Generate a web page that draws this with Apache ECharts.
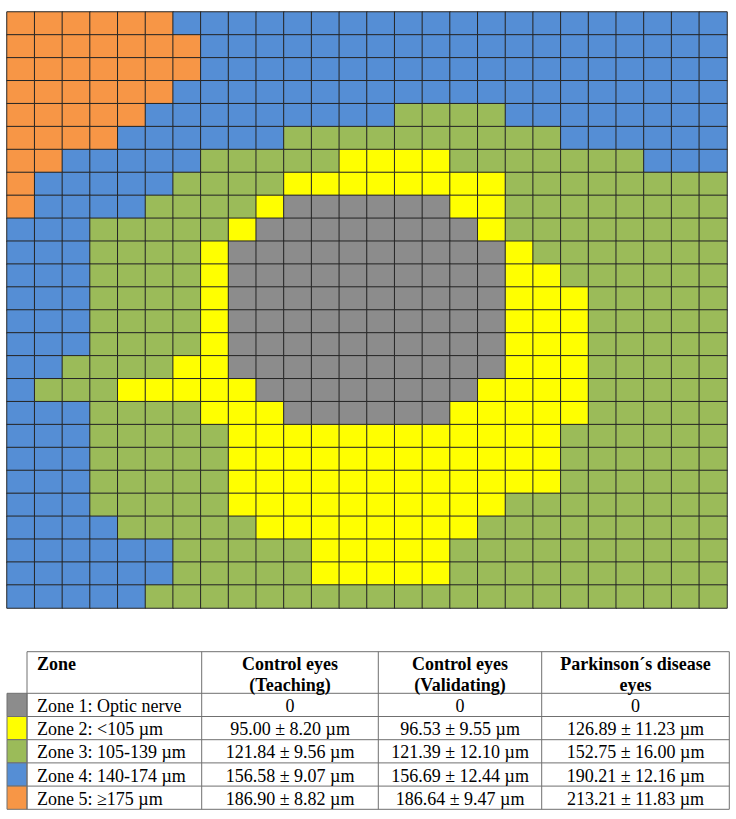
<!DOCTYPE html>
<html>
<head>
<meta charset="utf-8">
<script src="https://cdn.jsdelivr.net/npm/echarts@6/dist/echarts.min.js"></script>
<style>
  html, body { margin: 0; padding: 0; background: #ffffff; }
  #chart { width: 736px; height: 819px; }
</style>
</head>
<body>
<div id="chart"></div>
<script>
// zone of every cell, one string per row (1 = optic nerve ... 5 = >=175 µm)
const zoneRows = [
  '55555544444444444444444444',
  '55555554444444444444444444',
  '55555554444444444444444444',
  '55555544444444444444444444',
  '55555444444444333344444444',
  '55554444443333333333444444',
  '55444443333322223333333444',
  '54444433332222222233333333',
  '54444333321111112233333333',
  '44433333211111111233333333',
  '44433332111111111123333333',
  '44433332111111111122333333',
  '44433332111111111122233333',
  '44433332111111111122233333',
  '44433332111111111122233333',
  '44333322111111111122233333',
  '43332222211111111222233333',
  '44433332221111112222233333',
  '44433333222222222222333333',
  '44433333222222222222333333',
  '44433333222222222222333333',
  '44433333222222222233333333',
  '44443333322222222333333333',
  '44444433333222223333333333',
  '44444433333222223333333333',
  '44444333333333333333333333'
]

const zoneColors = ['#8c8c8c', '#ffff00', '#9bbb59', '#558ed5', '#f79646']
const zoneLabels = ['Zone 1: Optic nerve', 'Zone 2: <105 µm', 'Zone 3: 105-139 µm', 'Zone 4: 140-174 µm', 'Zone 5: ≥175 µm']
const teaching = ['0', '95.00 ± 8.20 µm', '121.84 ± 9.56 µm', '156.58 ± 9.07 µm', '186.90 ± 8.82 µm']
const validating = ['0', '96.53 ± 9.55 µm', '121.39 ± 12.10 µm', '156.69 ± 12.44 µm', '186.64 ± 9.47 µm']
const parkinson = ['0', '126.89 ± 11.23 µm', '152.75 ± 16.00 µm', '190.21 ± 12.16 µm', '213.21 ± 11.83 µm']
const headers = ['Zone', 'Control eyes\n(Teaching)', 'Control eyes\n(Validating)', 'Parkinson´s disease\neyes']

const chart = echarts.init(document.getElementById('chart'), null, { renderer: 'svg' })

const nCols = zoneRows[0].length
const cells = []
zoneRows.forEach((row, r) => {
  for (let c = 0; c < row.length; c++) cells.push([c, r, Number(row[c])])
})

// table layout
const colX = [27, 201.7, 378.3, 541.7, 729.3]
const tableTop = 651.7
const headH = 41.6
const rowH = 23.2
const font = '"Liberation Serif", "Times New Roman", serif'
const lineColor = '#707070'

const graphics = []
const tableBottom = tableTop + headH + rowH * zoneLabels.length
// swatches
zoneColors.forEach((col, i) => {
  graphics.push({
    type: 'rect',
    shape: { x: 7, y: tableTop + headH + rowH * i, width: colX[0] - 7, height: rowH },
    style: { fill: col, stroke: lineColor, lineWidth: 1 }
  })
})
// horizontal lines
const hy = [tableTop, tableTop + headH]
for (let i = 1; i <= zoneLabels.length; i++) hy.push(tableTop + headH + rowH * i)
hy.forEach(y => {
  graphics.push({
    type: 'line',
    shape: { x1: colX[0], y1: y, x2: colX[4], y2: y },
    style: { stroke: lineColor, lineWidth: 1 }
  })
})
// vertical lines
colX.forEach(x => {
  graphics.push({
    type: 'line',
    shape: { x1: x, y1: tableTop, x2: x, y2: tableBottom },
    style: { stroke: lineColor, lineWidth: 1 }
  })
})
// header texts
headers.forEach((h, i) => {
  const left = i === 0
  graphics.push({
    type: 'text',
    x: left ? colX[0] + 10 : (colX[i] + colX[i + 1]) / 2,
    y: tableTop + 2,
    style: {
      text: h,
      font: 'bold 18px ' + font,
      fill: '#000',
      align: left ? 'left' : 'center',
      verticalAlign: 'top',
      lineHeight: 21
    }
  })
})
// body texts
const bodyCols = [zoneLabels, teaching, validating, parkinson]
bodyCols.forEach((col, i) => {
  col.forEach((t, r) => {
    const left = i === 0
    graphics.push({
      type: 'text',
      x: left ? colX[0] + 10 : (colX[i] + colX[i + 1]) / 2,
      y: tableTop + headH + rowH * r + rowH / 2 + 1,
      style: {
        text: t,
        font: '18px ' + font,
        fill: '#000',
        align: left ? 'left' : 'center',
        verticalAlign: 'middle'
      }
    })
  })
})

const option = {
  animation: false,
  backgroundColor: '#ffffff',
  grid: { left: 7, top: 12, width: 720, height: 596 },
  xAxis: {
    type: 'category',
    data: Array.from({ length: nCols }, (_, i) => i),
    show: false
  },
  yAxis: {
    type: 'category',
    data: zoneRows.map((_, i) => i),
    inverse: true,
    show: false
  },
  visualMap: {
    type: 'piecewise',
    show: false,
    dimension: 2,
    pieces: zoneColors.map((c, i) => ({ value: i + 1, color: c }))
  },
  series: [{
    type: 'heatmap',
    data: cells,
    itemStyle: { borderColor: '#262626', borderWidth: 1 },
    emphasis: { disabled: true }
  }],
  graphic: graphics
}

chart.setOption(option)
</script>
</body>
</html>
